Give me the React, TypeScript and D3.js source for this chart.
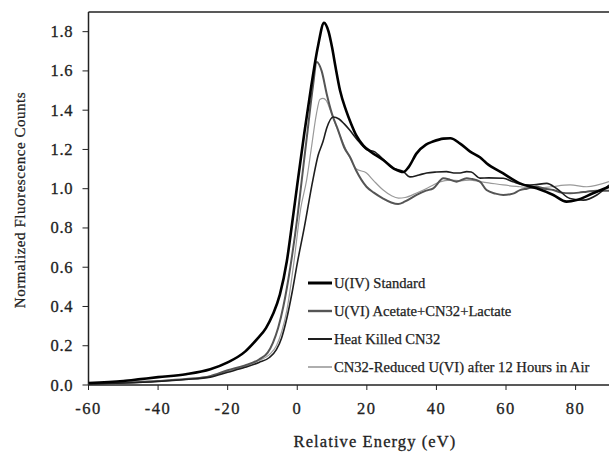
import React from "react";
import * as d3 from "d3";

// ---- data ----
const xTicks = [-60, -40, -20, 0, 20, 40, 60, 80];
const yTicks = [0.0, 0.2, 0.4, 0.6, 0.8, 1.0, 1.2, 1.4, 1.6, 1.8];

const seriesNames = [
  "U(IV) Standard",
  "U(VI) Acetate+CN32+Lactate",
  "Heat Killed CN32",
  "CN32-Reduced U(VI) after 12 Hours in Air",
];

const standardX = [-60, -50, -45, -40, -32, -25, -20, -15, -11.5, -9, -7, -5, -3, -1.5, 0, 2, 4, 6, 7.7, 9, 10, 11, 12.3, 14, 15.5, 17, 19, 21, 24.7, 28, 30.5, 32, 34.3, 37, 39, 42, 44, 46.8, 49.6, 52.5, 54.4, 59.2, 64, 68.8, 73.6, 77.4, 80.3, 85, 89.6];
const standardY = [0.01, 0.02, 0.03, 0.04, 0.055, 0.08, 0.115, 0.17, 0.235, 0.29, 0.36, 0.46, 0.63, 0.82, 1.02, 1.28, 1.52, 1.73, 1.845, 1.8, 1.72, 1.62, 1.5, 1.4, 1.33, 1.27, 1.22, 1.19, 1.146, 1.1, 1.085, 1.11, 1.18, 1.225, 1.24, 1.255, 1.257, 1.23, 1.19, 1.16, 1.13, 1.078, 1.027, 1.002, 0.968, 0.934, 0.942, 0.977, 1.01];

const acetateX = [-60, -50, -40, -32, -25, -20, -15, -11, -8.5, -7, -5.5, -4, -2, 0, 1.3, 3, 4.5, 5.6, 7, 8.5, 10, 11.7, 13.5, 15.2, 17, 19.9, 22, 24.7, 27, 29, 31, 34.3, 37, 39.1, 42, 44, 45.8, 48.7, 50, 52.5, 54.4, 57, 59.2, 62, 64, 66, 68.8, 71, 73.6, 76, 78.4, 81, 83.2, 86, 89.6];
const acetateY = [0.005, 0.012, 0.02, 0.03, 0.045, 0.075, 0.1, 0.13, 0.165, 0.215, 0.29, 0.4, 0.6, 0.85, 1.045, 1.3, 1.52, 1.645, 1.6, 1.48, 1.38, 1.3, 1.21, 1.16, 1.09, 1.01, 0.98, 0.95, 0.93, 0.922, 0.935, 0.968, 0.99, 1.002, 1.053, 1.045, 1.036, 1.053, 1.05, 1.036, 0.993, 0.975, 0.968, 0.975, 0.993, 1.0, 1.01, 1.0, 0.993, 0.98, 0.977, 0.98, 0.985, 0.99, 0.99];

const heatX = [-60, -50, -40, -32, -25, -20, -15, -11, -8, -6, -4.5, -3, -1.5, 0, 2, 4.5, 6, 7.4, 8.5, 10.3, 12, 13.5, 15, 17, 19.9, 22, 24.7, 27, 30.5, 32.4, 35, 37.2, 40, 42.9, 45, 46.8, 48.7, 50, 52.5, 55, 59.2, 62, 65.6, 68, 71.7, 74.6, 78.4, 82.2, 86.1, 89.6];
const heatY = [0.005, 0.01, 0.018, 0.028, 0.04, 0.065, 0.09, 0.115, 0.14, 0.18, 0.24, 0.34, 0.47, 0.62, 0.8, 1.045, 1.17, 1.24, 1.31, 1.365, 1.355, 1.33, 1.3, 1.255, 1.2, 1.19, 1.15, 1.11, 1.087, 1.06, 1.07, 1.08, 1.085, 1.087, 1.08, 1.08, 1.087, 1.085, 1.054, 1.055, 1.053, 1.035, 1.019, 1.02, 1.027, 1.0, 0.95, 0.942, 0.968, 1.019];

const reducedX = [-60, -50, -40, -32, -25, -20, -15, -11, -8, -6, -4.5, -3, -1, 1, 2.7, 4, 5.5, 6.5, 7.4, 8.3, 9.5, 11, 12.3, 14, 15.2, 17, 19.9, 22, 24.7, 27, 29.1, 31, 34.3, 37, 39.1, 41, 43.9, 47, 49.6, 52.5, 55, 59.2, 64, 68.8, 73, 78.4, 83.2, 89.6];
const reducedY = [0.005, 0.01, 0.02, 0.03, 0.045, 0.07, 0.095, 0.125, 0.155, 0.2, 0.27, 0.38, 0.62, 0.9, 1.045, 1.2, 1.38, 1.455, 1.46, 1.45, 1.4, 1.33, 1.27, 1.2, 1.156, 1.1, 1.08, 1.04, 0.993, 0.965, 0.952, 0.955, 0.978, 1.0, 1.019, 1.035, 1.044, 1.04, 1.044, 1.036, 1.03, 1.019, 1.01, 1.002, 1.01, 1.019, 1.01, 1.036];

const W = 609;
const H = 457;
const left = 88.5;
const right = 609;
const top = 12;
const bottom = 385;

const serif = "'Liberation Serif', 'Times New Roman', 'DejaVu Serif', serif";
const txt = { fontFamily: serif };

export default function App() {
  const x = d3.scaleLinear().domain([-60, 89.6]).range([left, right]);
  const y = d3.scaleLinear().domain([0, 1.8]).range([bottom, bottom - 9 * 39.26]);

  const gen = d3
    .line<[number, number]>()
    .x((d) => x(d[0]))
    .y((d) => y(d[1]))
    .curve(d3.curveMonotoneX);

  const zip = (xs: number[], ys: number[]) => xs.map((v, i) => [v, ys[i]] as [number, number]);

  const series = [
    { name: seriesNames[0], data: zip(standardX, standardY), color: "#000", width: 2.6 },
    { name: seriesNames[1], data: zip(acetateX, acetateY), color: "#555", width: 2.0 },
    { name: seriesNames[2], data: zip(heatX, heatY), color: "#1e1e1e", width: 1.6 },
    { name: seriesNames[3], data: zip(reducedX, reducedY), color: "#9a9a9a", width: 1.2 },
  ];
  const drawOrder = [3, 1, 2, 0];
  const legendY = [283, 311, 339, 367];

  return (
    <svg
      width={W}
      height={H}
      style={{ position: "absolute", left: 0, top: 0, background: "#fff" }}
    >
      <rect x={0} y={0} width={W} height={H} fill="#fff" />
      <defs>
        <clipPath id="plotclip">
          <rect x={left} y={top} width={right - left} height={bottom - top + 2} />
        </clipPath>
      </defs>

      {/* frame */}
      <line x1={left} x2={right} y1={top} y2={top} stroke="#222" strokeWidth={1.5} />
      <line x1={left} x2={left} y1={top} y2={bottom} stroke="#222" strokeWidth={1.5} />
      <line x1={left} x2={right} y1={bottom} y2={bottom} stroke="#222" strokeWidth={1.5} />

      {/* y ticks */}
      {yTicks.map((t) => (
        <g key={"y" + t}>
          <line x1={left - 6} x2={left} y1={y(t)} y2={y(t)} stroke="#222" strokeWidth={1} />
          <text
            x={73}
            y={y(t) + 5.5}
            textAnchor="end"
            fontSize={16.5}
            letterSpacing={0.6}
            fill="#222"
            stroke="#222"
            strokeWidth={0.3}
            style={txt}
          >
            {t.toFixed(1)}
          </text>
        </g>
      ))}

      {/* x ticks */}
      {xTicks.map((t) => (
        <g key={"x" + t}>
          <line x1={x(t)} x2={x(t)} y1={bottom} y2={bottom + 5} stroke="#222" strokeWidth={1} />
          <text
            x={x(t)}
            y={414}
            textAnchor="middle"
            fontSize={16.5}
            letterSpacing={1.5}
            fill="#222"
            stroke="#222"
            strokeWidth={0.3}
            style={txt}
          >
            {t}
          </text>
        </g>
      ))}

      {/* axis titles */}
      <text
        x={375}
        y={447}
        textAnchor="middle"
        fontSize={16.5}
        letterSpacing={1.1}
        fill="#222"
        stroke="#222"
        strokeWidth={0.3}
        style={txt}
      >
        Relative Energy (eV)
      </text>
      <text
        transform={`translate(25,200) rotate(-90)`}
        textAnchor="middle"
        fontSize={15}
        letterSpacing={0.55}
        fill="#222"
        stroke="#222"
        strokeWidth={0.25}
        style={txt}
      >
        Normalized Fluorescence Counts
      </text>

      {/* curves */}
      <g clipPath="url(#plotclip)">
        {drawOrder.map((i) => {
          const s = series[i];
          return (
            <path
              key={s.name}
              d={gen(s.data) || ""}
              fill="none"
              stroke={s.color}
              strokeWidth={s.width}
              strokeLinejoin="round"
            />
          );
        })}
      </g>

      {/* legend */}
      {series.map((s, i) => (
        <g key={"leg" + i}>
          <line x1={308} x2={332} y1={legendY[i]} y2={legendY[i]} stroke={s.color} strokeWidth={s.width + 0.4} />
          <text
            x={334}
            y={legendY[i] + 5}
            fontSize={14.6}
            fill="#222"
            stroke="#222"
            strokeWidth={0.25}
            style={txt}
          >
            {s.name}
          </text>
        </g>
      ))}
    </svg>
  );
}
